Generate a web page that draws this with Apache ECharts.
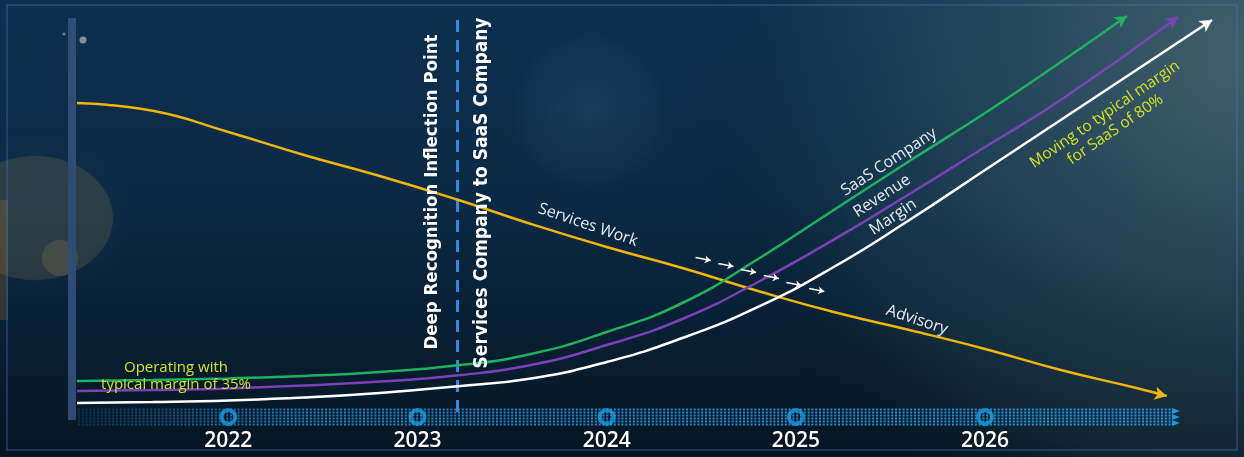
<!DOCTYPE html>
<html><head><meta charset="utf-8">
<script src="https://cdn.jsdelivr.net/npm/echarts@6/dist/echarts.min.js"></script>
<style>html,body{margin:0;padding:0;background:#071a2b;}#c{width:1244px;height:457px;}</style>
</head><body><div id="c"></div><script>
// ---- data (x = year, y = relative level 0..100) ----
const yearTicks = [2022, 2023, 2024, 2025, 2026];
const servicesWork = [[2021.2,76.75],[2021.6,74.8],[2022.0,69.5],[2022.4,63.75],[2022.8,58.5],[2023.2,52.75],[2023.6,46.5],[2024.0,40.75],[2024.4,35.5],[2024.8,29.75],[2025.2,24.5],[2025.6,20],[2026.0,15.25],[2026.4,10],[2026.8,5.5],[2026.96,3.5]];
const saasCompany = [[2021.2,7.25],[2021.6,7.5],[2022.0,7.9],[2022.4,8.5],[2022.8,9.5],[2023.2,11.1],[2023.6,14],[2024.0,19.5],[2024.4,26.75],[2024.8,37.75],[2025.2,50],[2025.6,62.25],[2026.0,74.25],[2026.4,87],[2026.75,98.5]];
const revenue = [[2021.2,4.75],[2021.6,5],[2022.0,5.4],[2022.4,6.1],[2022.8,7.1],[2023.2,8.6],[2023.6,11.25],[2024.0,16.25],[2024.4,22.75],[2024.8,32],[2025.2,42.6],[2025.6,54],[2026.0,65.75],[2026.4,77.5],[2027.02,98.25]];
const margin = [[2021.2,1.75],[2021.6,2],[2022.0,2.4],[2022.4,3.1],[2022.8,4.25],[2023.2,5.9],[2023.6,7.9],[2024.0,12],[2024.4,18],[2024.8,25.8],[2025.2,35.75],[2025.6,47.5],[2026.0,60],[2026.4,72.5],[2026.8,85],[2027.2,97.5]];
const inflectionYear = 2023.21;
const shiftArrows = [[2024.51,37.75],[2024.63,36.25],[2024.75,34.75],[2024.87,33.25],[2024.99,31.5],[2025.11,30]];
const tickMarkLevel = -1.75;

function withArrow(arr, rot, size) {
  return arr.map((p, i) => i === arr.length - 1
    ? { value: p, symbol: 'arrow', symbolSize: size, symbolRotate: rot }
    : { value: p, symbol: 'none' });
}

const chart = echarts.init(document.getElementById('c'));
const FONT = "'Open Sans', sans-serif";
const glow = (c0, c1) => ({ type: 'radial', x: 0.5, y: 0.5, r: 0.5,
  colorStops: [{ offset: 0, color: c0 }, { offset: 0.75, color: c1 }, { offset: 1, color: 'rgba(0,0,0,0)' }] });

const bandRows = [];
for (let k = 0; k < 6; k++) {
  bandRows.push({ type: 'line', z: -5, shape: { x1: 78, y1: 409.5 + k * 3, x2: 1172, y2: 409.5 + k * 3 },
    style: { stroke: { type: 'linear', x: 0, y: 0, x2: 1, y2: 0, colorStops: [{ offset: 0, color: 'rgba(27,150,225,0.2)' }, { offset: 0.2, color: 'rgba(27,150,225,0.85)' }, { offset: 1, color: 'rgba(27,150,225,1)' }] },
      lineWidth: 1.8, lineDash: [2, 1.8] } });
}

const texts = [
  { t: 'Deep Recognition Inflection Point', x: 432, y: 192, r: Math.PI / 2, c: '#ffffff', s: 18.5, w: 'bold', f: "'Liberation Sans Narrow', 'DejaVu Sans Condensed', sans-serif" },
  { t: 'Services Company to SaaS Company', x: 482, y: 193, r: Math.PI / 2, c: '#ffffff', s: 19, w: 'bold', f: "'Liberation Sans Narrow', 'DejaVu Sans Condensed', sans-serif" },
  { t: 'Services Work', x: 588, y: 225, r: -0.33, c: '#e6eef5', s: 16, w: 'normal', f: FONT },
  { t: 'Advisory', x: 917, y: 320, r: -0.32, c: '#e6eef5', s: 16, w: 'normal', f: FONT },
  { t: 'SaaS Company', x: 889, y: 162, r: 0.58, c: '#e6eef5', s: 16, w: 'normal', f: FONT },
  { t: 'Revenue', x: 882, y: 196, r: 0.58, c: '#e6eef5', s: 16, w: 'normal', f: FONT },
  { t: 'Margin', x: 893, y: 217, r: 0.58, c: '#e6eef5', s: 16, w: 'normal', f: FONT },
  { t: 'Moving to typical margin\nfor SaaS of 80%', x: 1110, y: 122, r: 0.6, c: '#d4e21e', s: 15.5, w: 'normal', f: FONT },
  { t: 'Operating with', x: 176, y: 368, r: 0, c: '#d4e21e', s: 15, w: 'normal', f: FONT },
  { t: 'typical margin of 35%', x: 176, y: 385, r: 0, c: '#d4e21e', s: 15, w: 'normal', f: FONT }
].map(o => ({ type: 'text', z: 100, x: o.x, y: o.y, rotation: o.r,
  style: { text: o.t, fill: o.c, fontSize: o.s, fontWeight: o.w, fontFamily: o.f, align: 'center', verticalAlign: 'middle', lineHeight: o.s + 3 } }));

chart.setOption({
  animation: false,
  backgroundColor: '#071a2b',
  graphic: { elements: [
    { type: 'rect', z: -100, shape: { x: 0, y: 0, width: 1244, height: 457 },
      style: { fill: { type: 'linear', x: 0, y: 0, x2: 0, y2: 1, colorStops: [{ offset: 0, color: '#0d3050' }, { offset: 0.45, color: '#0a2944' }, { offset: 1, color: '#061522' }] } } },
    { type: 'circle', z: -90, shape: { cx: 1244, cy: 60, r: 560 }, style: { fill: glow('rgba(100,130,125,0.6)', 'rgba(70,110,120,0.15)') } },
    { type: 'circle', z: -90, shape: { cx: 590, cy: 110, r: 90 }, style: { fill: glow('rgba(120,160,190,0.14)', 'rgba(120,160,190,0.04)') } },
    { type: 'ellipse', z: -85, shape: { cx: 35, cy: 218, rx: 78, ry: 62 }, style: { fill: 'rgba(150,130,80,0.2)', shadowBlur: 14, shadowColor: 'rgba(150,130,80,0.25)' } },
    { type: 'circle', z: -84, shape: { cx: 60, cy: 258, r: 18 }, style: { fill: 'rgba(190,150,90,0.18)' } },
    { type: 'rect', z: -84, shape: { x: 0, y: 200, width: 8, height: 120 }, style: { fill: 'rgba(170,110,40,0.25)' } },
    { type: 'rect', z: -80, shape: { x: 7, y: 5, width: 1230, height: 445 }, style: { fill: 'none', stroke: 'rgba(70,120,180,0.45)', lineWidth: 1.5 } },
    { type: 'rect', z: -4, shape: { x: 68, y: 18, width: 8, height: 402 }, style: { fill: '#2f4c76' } },
    { type: 'circle', z: -4, shape: { cx: 83, cy: 40, r: 3.5 }, style: { fill: '#7d8ea6' } },
    { type: 'circle', z: -4, shape: { cx: 64, cy: 34, r: 1.5 }, style: { fill: '#6a7a90' } },
    ...bandRows,
    { type: 'polygon', z: -4, shape: { points: [[1172, 408], [1180, 411], [1172, 414], [1180, 417], [1172, 420], [1180, 423], [1172, 426]] }, style: { fill: '#1b96e1' } },
    ...texts
  ] },
  grid: { left: 77, top: 10, width: 1154, height: 410 },
  xAxis: {
    type: 'value', min: 2021.2, max: 2027.3,
    axisLine: { show: false }, axisTick: { show: false }, splitLine: { show: false },
    axisLabel: { customValues: yearTicks, color: '#ffffff', fontSize: 21, fontWeight: 600, fontFamily: FONT, margin: 11, formatter: v => String(v) }
  },
  yAxis: { type: 'value', min: -2.5, max: 100, show: false, splitLine: { show: false } },
  series: [
    { type: 'line', name: 'Services Work', smooth: 0.5, data: withArrow(servicesWork, -103, [10, 12]),
      lineStyle: { color: '#f2b50c', width: 2.5 }, itemStyle: { color: '#f2b50c' }, z: 5,
      markLine: { silent: true, symbol: 'none', label: { show: false },
        lineStyle: { color: '#3a86dc', width: 3, type: [12, 8] },
        data: [[{ coord: [inflectionYear, -0.5] }, { coord: [inflectionYear, 98] }]] } },
    { type: 'line', name: 'SaaS Company', smooth: 0.5, data: withArrow(saasCompany, -56, [10, 12]),
      lineStyle: { color: '#1fb25c', width: 2.5 }, itemStyle: { color: '#1fb25c' }, z: 6 },
    { type: 'line', name: 'Revenue', smooth: 0.5, data: withArrow(revenue, -55, [10, 12]),
      lineStyle: { color: '#7c40b8', width: 2.5 }, itemStyle: { color: '#7c40b8' }, z: 6 },
    { type: 'line', name: 'Margin', smooth: 0.5, data: withArrow(margin, -57, [10, 12]),
      lineStyle: { color: '#ffffff', width: 2.5 }, itemStyle: { color: '#ffffff' }, z: 7 },
    { type: 'lines', coordinateSystem: 'cartesian2d', z: 8, silent: true,
      symbol: ['none', 'arrow'], symbolSize: 6,
      lineStyle: { color: '#ffffff', width: 1.5, opacity: 1 },
      data: shiftArrows.map(p => ({ coords: [[p[0] - 0.04, p[1] + 0.375], [p[0] + 0.04, p[1] - 0.375]] })) },
    { type: 'scatter', z: 9, silent: true, symbol: 'circle', symbolSize: 14,
      itemStyle: { color: 'rgba(0,0,0,0)', borderColor: '#1b9be3', borderWidth: 4 },
      data: yearTicks.map(y => [y, tickMarkLevel]) }
  ]
});
</script></body></html>
